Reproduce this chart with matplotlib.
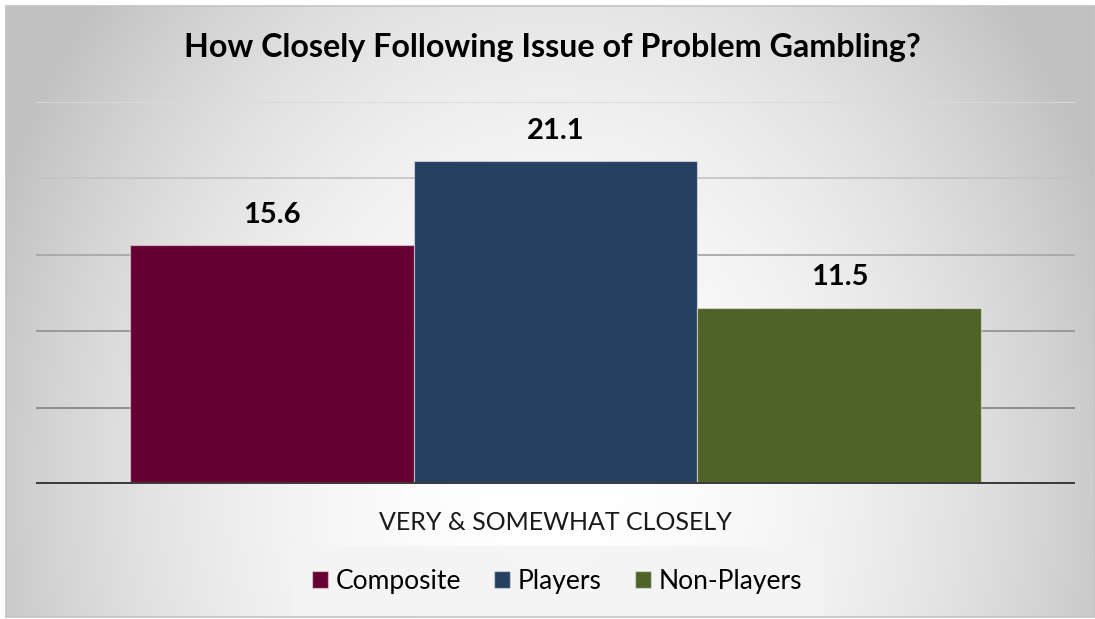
import numpy as np
import matplotlib
matplotlib.use("Agg")
import matplotlib.pyplot as plt
from matplotlib.patches import Rectangle

title = "How Closely Following Issue of Problem Gambling?"
category = "VERY & SOMEWHAT CLOSELY"
series = ["Composite", "Players", "Non-Players"]
values = [15.6, 21.1, 11.5]
colors = ["#660033", "#254061", "#4F6228"]
y_ticks = [0, 5, 10, 15, 20, 25]

W, H = 1095, 619
fig = plt.figure(figsize=(W / 100, H / 100), dpi=100, facecolor="white")
plt.rcParams["font.family"] = ["Lato", "DejaVu Sans"]

# radial gradient background panel
px0, py0 = 6, 6
pw, ph = W - px0, H - py0 - 2
bg = fig.add_axes([px0 / W, 2 / H, pw / W, ph / H])
yy, xx = np.mgrid[0:ph, 0:pw]
cx, cy = 550 - px0, 480 - py0
r2 = ((xx - cx) / 600.0) ** 2 + ((yy - cy) / 750.0) ** 2
r2 = np.clip(r2, 0, 0.98)
shade = 1.0 - 0.245 * r2
img = np.dstack([shade, shade, shade])
bg.imshow(img, aspect="auto", extent=(0, 1, 0, 1), interpolation="bilinear")
bg.set_xlim(0, 1)
bg.set_ylim(0, 1)
bg.set_xticks([])
bg.set_yticks([])
for s in bg.spines.values():
    s.set_color("#c4c4c4")
    s.set_linewidth(1.2)

# plot area
left, right = 36 / W, 1075 / W
bottom, top = 1 - 484 / H, 1 - 101.5 / H
ax = fig.add_axes([left, bottom, right - left, top - bottom])
ax.patch.set_alpha(0)
ax.set_xlim(-0.5, 0.5)
ax.set_ylim(0, 25)

grid_colors = ["#dadada", "#c4c4c4", "#a8a8a8", "#959595", "#888888"]
for yv, gc in zip(y_ticks[1:][::-1], grid_colors):
    ax.axhline(yv, color=gc, lw=1.3, zorder=1)

bw = 0.2733
xs = [(i - 1) * bw for i in range(len(values))]
for x, v, c in zip(xs, values, colors):
    ax.bar(x, v, width=bw, color=c, edgecolor=(1, 1, 1, 0.45), linewidth=0.9, zorder=2)
    ax.text(x, v + 1.15, f"{v:.1f}", ha="center", va="bottom", fontsize=21,
            fontweight="bold", color="black", zorder=3)

ax.axhline(0, color="#3c3c3c", lw=3.6, zorder=4)
for s in ax.spines.values():
    s.set_visible(False)
ax.set_xticks([])
ax.set_yticks([])

fig.text(552 / W, 1 - 48 / H, title, ha="center", va="center", fontsize=23.2,
         fontweight="bold", color="black")
fig.text(555 / W, 1 - 522 / H, category, ha="center", va="center", fontsize=18,
         color="#1a1a1a")

# legend
handles = [Rectangle((0, 0), 1, 1, facecolor=c, edgecolor=(1, 1, 1, 0.45), lw=1.0)
           for c in colors]
leg = fig.legend(handles, series, loc="center", bbox_to_anchor=(557 / W, 1 - 581 / H),
                 ncol=3, frameon=True, fontsize=19, handlelength=0.6, handleheight=0.6,
                 handletextpad=0.3, columnspacing=1.25, borderpad=0.55)
leg.get_frame().set_facecolor("#f4f4f4")
leg.get_frame().set_edgecolor("none")
leg.get_frame().set_boxstyle("square")
leg.get_frame().set_alpha(0.9)

fig.savefig("out.png", dpi=100, facecolor="white")
